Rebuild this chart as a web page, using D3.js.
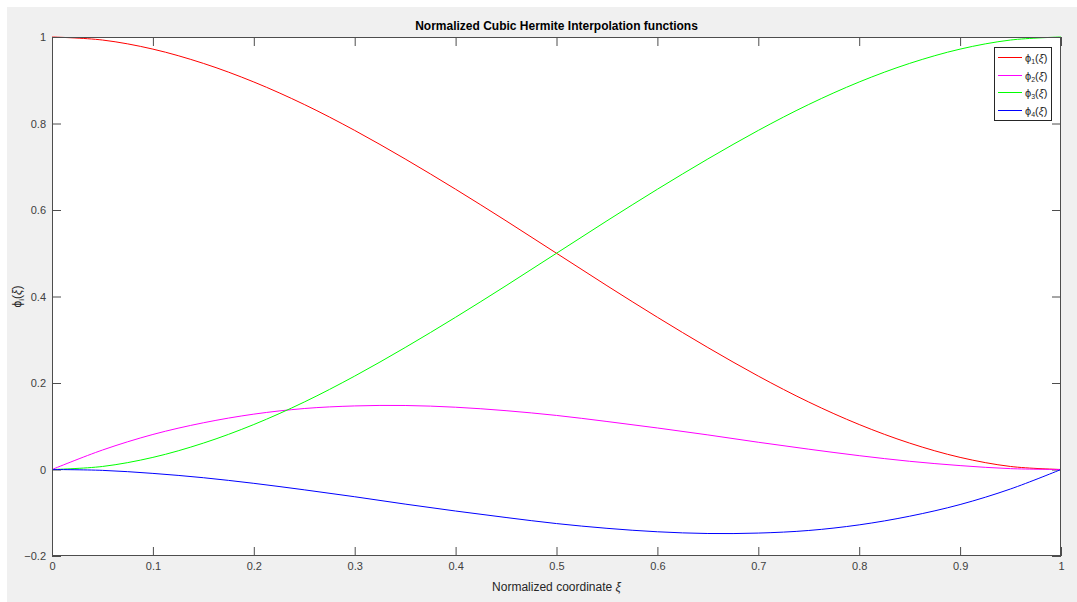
<!DOCTYPE html>
<html>
<head>
<meta charset="utf-8">
<script src="https://cdn.jsdelivr.net/npm/d3@7"></script>
<style>
  body { margin: 0; background: #fff; }
  text { font-family: "Liberation Sans", Arial, sans-serif; }
</style>
</head>
<body>
<div id="chart-area"></div>
<script>
var xi = [0, 0.05, 0.1, 0.15, 0.2, 0.25, 0.3, 0.35, 0.4, 0.45, 0.5,
          0.55, 0.6, 0.65, 0.7, 0.75, 0.8, 0.85, 0.9, 0.95, 1];
var phi1 = [1, 0.993, 0.972, 0.939, 0.896, 0.844, 0.784, 0.718, 0.648, 0.575, 0.5,
            0.425, 0.352, 0.282, 0.216, 0.156, 0.104, 0.061, 0.028, 0.007, 0];
var phi2 = [0, 0.045, 0.081, 0.108, 0.128, 0.141, 0.147, 0.148, 0.144, 0.136, 0.125,
            0.111, 0.096, 0.080, 0.063, 0.047, 0.032, 0.019, 0.009, 0.002, 0];
var phi3 = [0, 0.007, 0.028, 0.061, 0.104, 0.156, 0.216, 0.282, 0.352, 0.425, 0.5,
            0.575, 0.648, 0.718, 0.784, 0.844, 0.896, 0.939, 0.972, 0.993, 1];
var phi4 = [0, -0.002, -0.009, -0.019, -0.032, -0.047, -0.063, -0.080, -0.096, -0.111, -0.125,
            -0.136, -0.144, -0.148, -0.147, -0.141, -0.128, -0.108, -0.081, -0.045, 0];

var seriesNames = ["1", "2", "3", "4"];
var seriesColors = ["#ff0000", "#ff00ff", "#00ff00", "#0000ff"];
var xTicks = [0, 0.1, 0.2, 0.3, 0.4, 0.5, 0.6, 0.7, 0.8, 0.9, 1];
var yTicks = [-0.2, 0, 0.2, 0.4, 0.6, 0.8, 1];

var W = 1077, H = 602;
var margins = { top: 37, right: 16, bottom: 46, left: 52 };
var axisColor = "#4d4d4d";

var svg = d3.select("#chart-area").append("svg")
    .attr("width", W)
    .attr("height", H)
    .style("display", "block");

svg.append("rect").attr("x", 7).attr("y", 7).attr("width", W - 7).attr("height", H - 7).attr("fill", "#f0f0f0");

var x = d3.scaleLinear().domain([0, 1]).range([margins.left, W - margins.right]);
var y = d3.scaleLinear().domain([-0.2, 1]).range([H - margins.bottom, margins.top]);

svg.append("rect")
    .attr("x", x(0)).attr("y", y(1))
    .attr("width", x(1) - x(0)).attr("height", y(-0.2) - y(1))
    .attr("fill", "#fff");

var fmt = d => d3.format("")(+d.toFixed(1));

function styleAxis(g) {
    g.select(".domain").remove();
    g.selectAll("line").attr("stroke", axisColor);
    g.selectAll("text").attr("fill", "#404040").attr("font-size", "11px");
}

svg.append("g").attr("transform", `translate(0,${y(-0.2)})`)
    .call(d3.axisBottom(x).tickValues(xTicks).tickFormat(fmt).tickSizeInner(-9).tickSizeOuter(0).tickPadding(6))
    .call(styleAxis);
svg.append("g").attr("transform", `translate(0,${y(1)})`)
    .call(d3.axisTop(x).tickValues(xTicks).tickFormat("").tickSizeInner(-9).tickSizeOuter(0))
    .call(styleAxis);
svg.append("g").attr("transform", `translate(${x(0)},0)`)
    .call(d3.axisLeft(y).tickValues(yTicks).tickFormat(fmt).tickSizeInner(-9).tickSizeOuter(0).tickPadding(6))
    .call(styleAxis);
svg.append("g").attr("transform", `translate(${x(1)},0)`)
    .call(d3.axisRight(y).tickValues(yTicks).tickFormat("").tickSizeInner(-9).tickSizeOuter(0))
    .call(styleAxis);

var line = d3.line()
    .x((d, i) => x(xi[i]))
    .y(d => y(d))
    .curve(d3.curveCatmullRom);

[phi1, phi2, phi3, phi4].forEach((s, i) => {
    svg.append("path")
        .attr("d", line(s))
        .attr("fill", "none")
        .attr("stroke", seriesColors[i])
        .attr("stroke-width", 1);
});

svg.append("rect")
    .attr("x", x(0) + 0.5).attr("y", y(1) + 0.5)
    .attr("width", x(1) - x(0) - 1).attr("height", y(-0.2) - y(1) - 1)
    .attr("fill", "none").attr("stroke", axisColor).attr("stroke-width", 1);

svg.append("text")
    .attr("x", (x(0) + x(1)) / 2).attr("y", 30)
    .attr("text-anchor", "middle")
    .attr("font-size", "12px").attr("font-weight", "bold").attr("fill", "#000")
    .text("Normalized Cubic Hermite Interpolation functions");

svg.append("text")
    .attr("x", (x(0) + x(1)) / 2).attr("y", 591)
    .attr("text-anchor", "middle")
    .attr("font-size", "12px").attr("fill", "#262626")
    .text("Normalized coordinate ")
    .append("tspan").attr("font-style", "italic").text("ξ");

var yl = svg.append("text")
    .attr("transform", `translate(21,${(y(1) + y(-0.2)) / 2}) rotate(-90)`)
    .attr("text-anchor", "middle")
    .attr("font-size", "12px").attr("fill", "#262626");
yl.append("tspan").text("ϕ");
yl.append("tspan").attr("font-size", "8px").attr("dy", 3).text("i");
yl.append("tspan").attr("dy", -3).text("(");
yl.append("tspan").attr("font-style", "italic").text("ξ");
yl.append("tspan").text(")");

var legend = svg.append("g").attr("transform", "translate(994,47)");
legend.append("rect")
    .attr("x", 0.5).attr("y", 0.5).attr("width", 57).attr("height", 73)
    .attr("fill", "#fff").attr("stroke", "#262626").attr("stroke-width", 1);

seriesNames.forEach((n, i) => {
    var item = legend.append("g").attr("transform", `translate(0,${Math.round(10 + i * 17.7) + 0.5})`);
    item.append("line").attr("x1", 4).attr("x2", 28).attr("y1", 0).attr("y2", 0)
        .attr("stroke", seriesColors[i]).attr("stroke-width", 1);
    var t = item.append("text").attr("x", 31).attr("y", 4)
        .attr("font-size", "11px").attr("fill", "#262626");
    t.append("tspan").text("ϕ");
    t.append("tspan").attr("font-size", "7px").attr("dy", 2).text(n);
    t.append("tspan").attr("dy", -2).text("(");
    t.append("tspan").attr("font-style", "italic").text("ξ");
    t.append("tspan").text(")");
});
</script>
</body>
</html>
